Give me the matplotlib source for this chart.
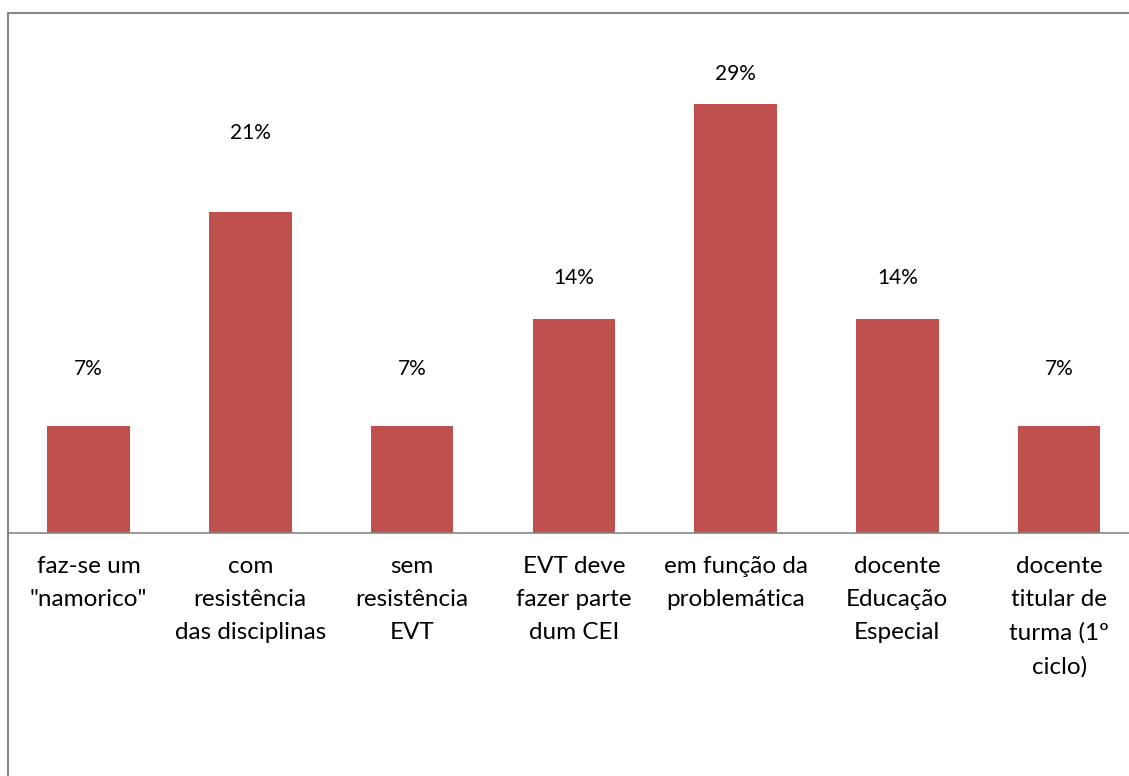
import matplotlib.pyplot as plt
from matplotlib.patches import Rectangle

categories = [
    'faz-se um\n"namorico"',
    "com\nresistência\ndas disciplinas",
    "sem\nresistência\nEVT",
    "EVT deve\nfazer parte\ndum CEI",
    "em função da\nproblemática",
    "docente\nEducação\nEspecial",
    "docente\ntitular de\nturma (1º\nciclo)",
]
values = [7.14, 21.43, 7.14, 14.29, 28.57, 14.29, 7.14]
value_labels = ["7%", "21%", "7%", "14%", "29%", "14%", "7%"]

W, H = 1129, 776
fig = plt.figure(figsize=(W / 100, H / 100), dpi=100)
plt.rcParams["font.family"] = ["Lato", "DejaVu Sans"]

# chart border (cut off at the right and bottom like in the original)
fig.patches.append(Rectangle((8 / W, -0.1), 1.2, (H - 13) / H + 0.1,
                             transform=fig.transFigure, fill=False,
                             ec="#868686", lw=1.5))

# plot area in pixels: x 7.6..1140, baseline at 533, top at 40
ax = fig.add_axes([7.6 / W, (H - 533) / H, (1140 - 7.6) / W, (533 - 40) / H])
x = range(len(categories))
ax.bar(x, values, width=0.51, color="#c0504d")
ax.set_xlim(-0.5, len(categories) - 0.5)
ax.set_ylim(0, (533 - 40) / 15)

# data labels sit at uneven heights in the original
label_offset_px = [57, 79, 57, 41, 30, 41, 57]
for xi, v, lab, off in zip(x, values, value_labels, label_offset_px):
    ax.annotate(lab, (xi, v), xytext=(0, off * 0.72), textcoords="offset points",
                ha="center", va="center", fontsize=15, color="black")

ax.set_xticks(list(x))
ax.set_xticklabels(categories, fontsize=17.5, linespacing=1.7, va="top")
ax.tick_params(axis="x", length=0, pad=16.5)
ax.set_yticks([])
for side in ["top", "right", "left"]:
    ax.spines[side].set_visible(False)
ax.spines["bottom"].set_color("#868686")
ax.spines["bottom"].set_linewidth(1.2)

fig.savefig("out.png", dpi=100)
